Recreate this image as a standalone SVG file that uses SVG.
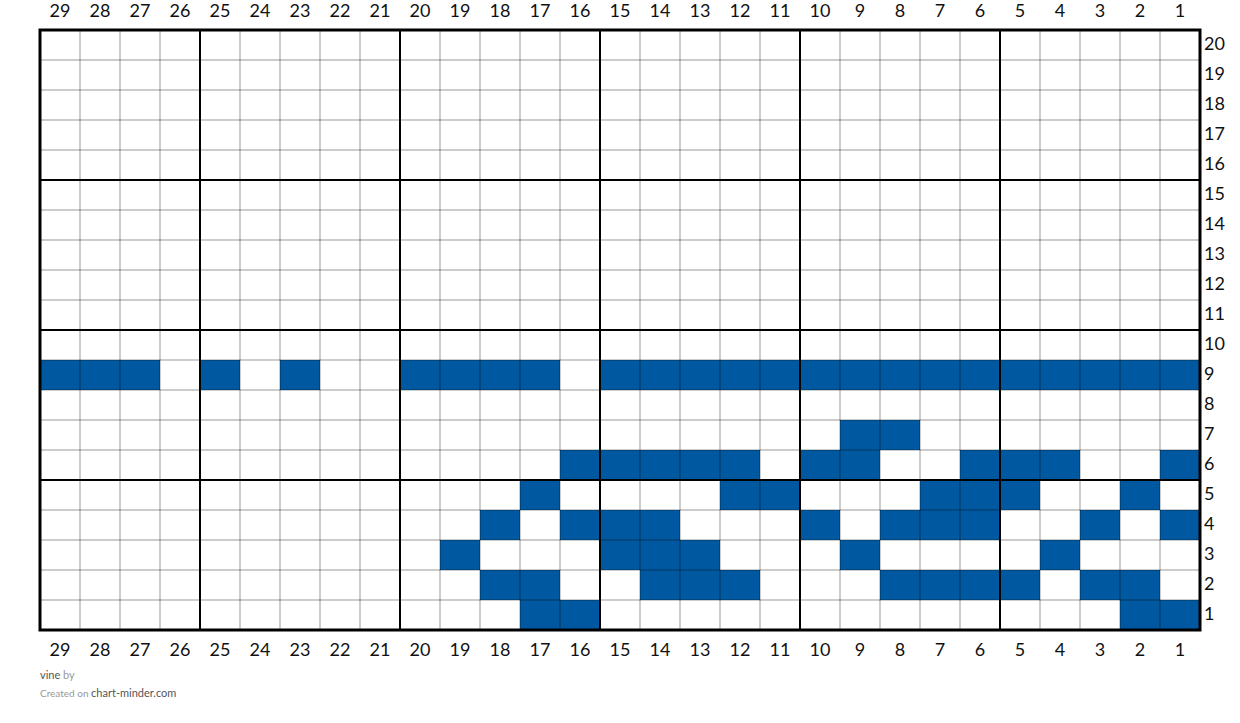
<svg xmlns="http://www.w3.org/2000/svg" width="1240" height="723" viewBox="0 0 1240 723">
<style>
.bg{fill:#ffffff}
.c{fill:#0059a0}
.thin{stroke:#000;stroke-opacity:0.4;stroke-width:1;fill:none}
.thick{stroke:#000;stroke-width:2;fill:none}
.border{stroke:#000;stroke-width:3;fill:none}
.n{font-family:Lato,"Liberation Sans",sans-serif;font-size:18px;fill:#111;text-anchor:middle}
.r{font-family:Lato,"Liberation Sans",sans-serif;font-size:18px;fill:#111;text-anchor:start}
.f1{font-family:Lato,"Liberation Sans",sans-serif;font-size:11px;fill:#555}
.f2{font-family:Lato,"Liberation Sans",sans-serif;font-size:10px;fill:#999}
.lt{fill:#999}
.dk{fill:#555}
</style>
<rect class="bg" x="0" y="0" width="1240" height="723"/>
<g id="cells">
<rect class="c" x="40" y="360" width="120" height="30"/>
<rect class="c" x="200" y="360" width="40" height="30"/>
<rect class="c" x="280" y="360" width="40" height="30"/>
<rect class="c" x="400" y="360" width="160" height="30"/>
<rect class="c" x="600" y="360" width="600" height="30"/>
<rect class="c" x="840" y="420" width="80" height="30"/>
<rect class="c" x="560" y="450" width="200" height="30"/>
<rect class="c" x="800" y="450" width="80" height="30"/>
<rect class="c" x="960" y="450" width="120" height="30"/>
<rect class="c" x="1160" y="450" width="40" height="30"/>
<rect class="c" x="520" y="480" width="40" height="30"/>
<rect class="c" x="720" y="480" width="80" height="30"/>
<rect class="c" x="920" y="480" width="120" height="30"/>
<rect class="c" x="1120" y="480" width="40" height="30"/>
<rect class="c" x="480" y="510" width="40" height="30"/>
<rect class="c" x="560" y="510" width="120" height="30"/>
<rect class="c" x="800" y="510" width="40" height="30"/>
<rect class="c" x="880" y="510" width="120" height="30"/>
<rect class="c" x="1080" y="510" width="40" height="30"/>
<rect class="c" x="1160" y="510" width="40" height="30"/>
<rect class="c" x="440" y="540" width="40" height="30"/>
<rect class="c" x="600" y="540" width="120" height="30"/>
<rect class="c" x="840" y="540" width="40" height="30"/>
<rect class="c" x="1040" y="540" width="40" height="30"/>
<rect class="c" x="480" y="570" width="80" height="30"/>
<rect class="c" x="640" y="570" width="120" height="30"/>
<rect class="c" x="880" y="570" width="160" height="30"/>
<rect class="c" x="1080" y="570" width="80" height="30"/>
<rect class="c" x="520" y="600" width="80" height="30"/>
<rect class="c" x="1120" y="600" width="80" height="30"/>
</g>
<g id="grid">
<path class="thin" d="M80 30V630M120 30V630M160 30V630M240 30V630M280 30V630M320 30V630M360 30V630M440 30V630M480 30V630M520 30V630M560 30V630M640 30V630M680 30V630M720 30V630M760 30V630M840 30V630M880 30V630M920 30V630M960 30V630M1040 30V630M1080 30V630M1120 30V630M1160 30V630"/>
<path class="thin" d="M40 60H1200M40 90H1200M40 120H1200M40 150H1200M40 210H1200M40 240H1200M40 270H1200M40 300H1200M40 360H1200M40 390H1200M40 420H1200M40 450H1200M40 510H1200M40 540H1200M40 570H1200M40 600H1200"/>
<path class="thick" d="M200 30V630M400 30V630M600 30V630M800 30V630M1000 30V630M40 180H1200M40 330H1200M40 480H1200"/>
<rect class="border" x="40" y="30" width="1160" height="600"/>
</g>
<g id="top-labels">
<text class="n" x="60" y="17">29</text><text class="n" x="100" y="17">28</text><text class="n" x="140" y="17">27</text><text class="n" x="180" y="17">26</text><text class="n" x="220" y="17">25</text><text class="n" x="260" y="17">24</text><text class="n" x="300" y="17">23</text><text class="n" x="340" y="17">22</text><text class="n" x="380" y="17">21</text><text class="n" x="420" y="17">20</text><text class="n" x="460" y="17">19</text><text class="n" x="500" y="17">18</text><text class="n" x="540" y="17">17</text><text class="n" x="580" y="17">16</text><text class="n" x="620" y="17">15</text><text class="n" x="660" y="17">14</text><text class="n" x="700" y="17">13</text><text class="n" x="740" y="17">12</text><text class="n" x="780" y="17">11</text><text class="n" x="820" y="17">10</text><text class="n" x="860" y="17">9</text><text class="n" x="900" y="17">8</text><text class="n" x="940" y="17">7</text><text class="n" x="980" y="17">6</text><text class="n" x="1020" y="17">5</text><text class="n" x="1060" y="17">4</text><text class="n" x="1100" y="17">3</text><text class="n" x="1140" y="17">2</text><text class="n" x="1180" y="17">1</text>
</g>
<g id="bottom-labels">
<text class="n" x="60" y="656">29</text><text class="n" x="100" y="656">28</text><text class="n" x="140" y="656">27</text><text class="n" x="180" y="656">26</text><text class="n" x="220" y="656">25</text><text class="n" x="260" y="656">24</text><text class="n" x="300" y="656">23</text><text class="n" x="340" y="656">22</text><text class="n" x="380" y="656">21</text><text class="n" x="420" y="656">20</text><text class="n" x="460" y="656">19</text><text class="n" x="500" y="656">18</text><text class="n" x="540" y="656">17</text><text class="n" x="580" y="656">16</text><text class="n" x="620" y="656">15</text><text class="n" x="660" y="656">14</text><text class="n" x="700" y="656">13</text><text class="n" x="740" y="656">12</text><text class="n" x="780" y="656">11</text><text class="n" x="820" y="656">10</text><text class="n" x="860" y="656">9</text><text class="n" x="900" y="656">8</text><text class="n" x="940" y="656">7</text><text class="n" x="980" y="656">6</text><text class="n" x="1020" y="656">5</text><text class="n" x="1060" y="656">4</text><text class="n" x="1100" y="656">3</text><text class="n" x="1140" y="656">2</text><text class="n" x="1180" y="656">1</text>
</g>
<g id="row-labels">
<text class="r" x="1204" y="50">20</text><text class="r" x="1204" y="80">19</text><text class="r" x="1204" y="110">18</text><text class="r" x="1204" y="140">17</text><text class="r" x="1204" y="170">16</text><text class="r" x="1204" y="200">15</text><text class="r" x="1204" y="230">14</text><text class="r" x="1204" y="260">13</text><text class="r" x="1204" y="290">12</text><text class="r" x="1204" y="320">11</text><text class="r" x="1204" y="350">10</text><text class="r" x="1204" y="380">9</text><text class="r" x="1204" y="410">8</text><text class="r" x="1204" y="440">7</text><text class="r" x="1204" y="470">6</text><text class="r" x="1204" y="500">5</text><text class="r" x="1204" y="530">4</text><text class="r" x="1204" y="560">3</text><text class="r" x="1204" y="590">2</text><text class="r" x="1204" y="620">1</text>
</g>
<g id="footer">
<text class="f1" x="40" y="679"><tspan class="dk">vine</tspan><tspan class="lt"> by</tspan></text>
<text class="f2" x="40" y="697"><tspan class="lt">Created on </tspan><tspan class="dk" font-size="11">chart-minder.com</tspan></text>
</g>
</svg>
